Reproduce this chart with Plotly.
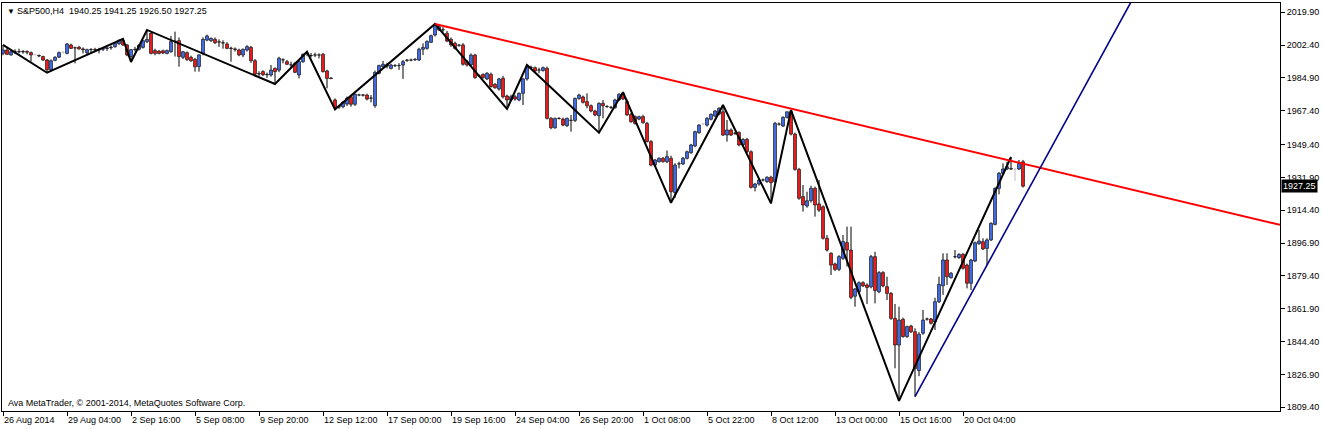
import plotly.graph_objects as go

# S&P500 H4 bars, 26 Aug 2014 .. 22 Oct 2014
bar_open = [
    1998.0, 1999.8, 1997.2, 1998.9, 1999.0, 1998.8, 1999.0, 1998.4, 1997.3, 1996.9,
    1996.3, 1994.5, 1989.3, 1994.3, 1996.0, 1998.6, 1998.0, 2002.5, 2000.9, 2001.3,
    2000.4, 1998.4, 2000.0, 2000.1, 1999.8, 2000.2, 2000.6, 2001.0, 2001.6, 2003.2,
    2004.8, 2002.5, 1996.3, 2000.0, 2000.2, 2001.2, 2004.3, 2008.7, 1999.5, 1999.2,
    1999.4, 1998.0, 1999.0, 2004.3, 2004.8, 1995.9, 1998.4, 1995.9, 1994.8, 1991.0,
    1998.0, 2005.1, 2004.8, 2005.5, 2004.2, 2003.7, 2003.0, 2000.8, 2000.4, 1999.8,
    1997.2, 1999.8, 2001.2, 1994.1, 1987.0, 1988.3, 1986.6, 1986.5, 1990.0, 1989.1,
    1994.5, 1993.6, 1991.8, 1992.7, 1986.5, 1993.6, 1998.0, 1996.9, 1997.2, 1997.1,
    1997.5, 1988.6, 1984.9, 1973.2, 1969.4, 1969.6, 1971.0, 1974.9, 1970.9, 1975.8,
    1975.9, 1975.8, 1974.1, 1970.2, 1987.4, 1991.0, 1992.0, 1990.0, 1991.4, 1991.5,
    1991.8, 1994.3, 1994.5, 1994.6, 1994.5, 2000.2, 2000.7, 2003.9, 2007.8, 2010.5,
    2010.6, 2008.7, 2005.5, 2003.4, 2002.3, 2002.5, 1993.6, 1991.8, 1997.1, 1986.0,
    1986.8, 1984.4, 1986.8, 1981.5, 1979.0, 1984.7, 1975.3, 1973.2, 1974.9, 1973.2,
    1976.7, 1984.4, 1990.5, 1990.4, 1989.1, 1988.9, 1990.0, 1963.4, 1958.4, 1963.4,
    1963.0, 1959.5, 1962.4, 1962.3, 1974.0, 1974.8, 1972.3, 1970.1, 1967.3, 1964.8,
    1971.4, 1969.6, 1969.3, 1969.1, 1973.2, 1976.5, 1972.3, 1965.5, 1964.3, 1963.0,
    1964.3, 1960.7, 1951.0, 1938.5, 1940.3, 1942.1, 1940.3, 1942.1, 1923.8, 1939.1,
    1939.1, 1942.1, 1945.1, 1948.7, 1955.8, 1960.4, 1959.8, 1962.9, 1964.6, 1965.7,
    1966.9, 1954.5, 1957.2, 1955.4, 1955.8, 1949.2, 1952.2, 1945.6, 1926.6, 1928.4,
    1930.5, 1929.7, 1932.0, 1929.7, 1960.4, 1959.3, 1963.9, 1966.9, 1955.0, 1936.2,
    1921.7, 1916.7, 1919.5, 1926.1, 1917.8, 1916.3, 1899.5, 1891.5, 1885.8, 1882.9,
    1888.8, 1897.2, 1893.2, 1868.6, 1871.0, 1875.8, 1874.6, 1873.6, 1889.7, 1871.0,
    1881.2, 1873.7, 1870.1, 1856.8, 1842.6, 1856.3, 1847.1, 1852.7, 1849.7, 1829.0,
    1848.9, 1856.4, 1856.5, 1855.0, 1865.7, 1874.2, 1887.9, 1878.5, 1889.6, 1889.2,
    1890.9, 1885.2, 1875.5, 1887.4, 1896.6, 1897.7, 1894.1, 1898.6, 1906.9, 1926.1,
    1934.1, 1936.4, 1936.6, 1936.4, 1936.4, 1940.25,
]
bar_high = [
    2002.5, 2000.8, 1999.5, 2000.2, 2000.5, 1999.8, 1999.6, 1999.0, 1997.8, 1997.4,
    1996.8, 1995.0, 1994.8, 1996.5, 1999.0, 1999.2, 2003.5, 2003.2, 2001.6, 2002.0,
    2001.2, 2000.5, 2000.8, 2001.0, 2001.0, 2001.0, 2001.5, 2002.2, 2004.0, 2005.5,
    2005.7, 2003.0, 2000.2, 2001.5, 2003.0, 2005.0, 2010.5, 2009.5, 2000.5, 1999.8,
    2000.0, 2000.0, 2007.3, 2009.6, 2006.5, 1999.3, 1999.0, 1996.8, 1995.6, 1997.5,
    2006.5, 2008.0, 2006.5, 2006.5, 2005.5, 2005.0, 2004.0, 2001.6, 2001.2, 2000.5,
    2000.6, 2002.4, 2002.0, 1995.0, 1988.5, 1989.0, 1987.8, 1991.8, 1990.5, 1996.2,
    1995.4, 1994.5, 1993.6, 1993.5, 1994.0, 1998.0, 1998.9, 1998.2, 1998.4, 1998.0,
    1998.3, 1989.3, 1985.3, 1974.0, 1970.5, 1972.5, 1975.0, 1976.0, 1976.6, 1976.5,
    1976.4, 1976.5, 1975.8, 1988.8, 1992.0, 1994.0, 1993.0, 1992.5, 1992.3, 1992.8,
    1994.5, 1995.0, 1995.2, 1995.4, 2001.0, 2003.4, 2005.0, 2008.0, 2013.7, 2013.0,
    2012.0, 2010.0, 2006.5, 2004.3, 2003.0, 2003.5, 1994.5, 1998.0, 1997.8, 1986.8,
    1987.3, 1988.0, 1987.8, 1982.2, 1985.0, 1986.0, 1976.0, 1976.0, 1975.8, 1977.2,
    1985.0, 1991.8, 1991.5, 1991.0, 1990.4, 1991.0, 1991.0, 1964.0, 1963.8, 1964.0,
    1963.8, 1963.8, 1965.2, 1974.5, 1976.5, 1975.5, 1976.7, 1970.8, 1968.0, 1971.9,
    1973.2, 1970.4, 1970.0, 1973.8, 1976.8, 1977.3, 1973.5, 1966.2, 1965.0, 1964.8,
    1965.3, 1961.5, 1951.8, 1941.8, 1942.6, 1942.8, 1946.2, 1943.5, 1939.5, 1940.3,
    1942.8, 1946.2, 1949.8, 1956.8, 1960.3, 1961.0, 1964.0, 1966.0, 1967.8, 1969.3,
    1970.5, 1962.5, 1958.0, 1956.2, 1956.5, 1952.8, 1953.0, 1946.3, 1929.0, 1931.0,
    1931.3, 1932.5, 1932.8, 1961.5, 1961.2, 1964.5, 1967.0, 1967.8, 1955.8, 1937.0,
    1927.9, 1924.3, 1927.5, 1927.0, 1930.5, 1917.0, 1901.2, 1892.0, 1886.5, 1890.5,
    1901.2, 1905.7, 1905.7, 1872.9, 1876.5, 1876.6, 1875.4, 1890.6, 1892.3, 1882.0,
    1882.0, 1879.0, 1870.8, 1864.5, 1863.0, 1857.2, 1853.0, 1853.4, 1851.5, 1849.5,
    1861.3, 1857.2, 1857.0, 1867.8, 1879.0, 1891.5, 1891.5, 1881.5, 1893.2, 1891.5,
    1891.6, 1886.0, 1888.5, 1897.7, 1903.9, 1899.5, 1899.5, 1908.0, 1926.6, 1934.8,
    1939.4, 1940.3, 1942.8, 1937.1, 1941.2, 1941.25,
]
bar_low = [
    1997.0, 1997.2, 1996.8, 1997.6, 1998.0, 1997.8, 1997.5, 1993.6, 1996.9, 1996.0,
    1994.0, 1987.7, 1988.5, 1993.8, 1995.5, 1997.8, 1997.5, 2000.3, 1992.7, 2000.0,
    1998.0, 1997.5, 1998.5, 1999.0, 1998.0, 1999.2, 1999.4, 2000.0, 2001.0, 2002.5,
    2002.0, 1996.5, 1993.4, 1999.0, 1999.5, 2000.6, 2003.5, 1997.5, 1997.0, 1997.5,
    1997.6, 1997.5, 1998.3, 1996.3, 1990.9, 1995.0, 1994.0, 1993.5, 1988.3, 1988.3,
    1997.0, 2004.5, 2004.2, 2003.0, 2001.5, 2000.5, 2000.2, 1993.6, 1999.0, 1996.5,
    1996.0, 1999.0, 1993.0, 1985.6, 1985.5, 1986.0, 1985.0, 1985.6, 1981.7, 1988.0,
    1992.7, 1991.8, 1990.0, 1987.5, 1984.7, 1993.0, 1996.5, 1995.8, 1996.0, 1995.3,
    1987.8, 1979.4, 1984.3, 1968.2, 1968.5, 1968.8, 1970.0, 1969.6, 1970.0, 1975.2,
    1975.0, 1973.0, 1971.9, 1969.0, 1986.8, 1990.5, 1990.0, 1989.5, 1990.8, 1989.2,
    1984.4, 1993.5, 1993.8, 1994.0, 1994.0, 1997.1, 2000.0, 2003.5, 2007.0, 2010.0,
    2009.5, 2004.0, 2001.5, 2000.0, 2001.5, 1991.5, 1991.0, 1991.0, 1984.5, 1985.5,
    1984.6, 1983.8, 1979.8, 1979.2, 1978.2, 1974.0, 1968.4, 1972.5, 1972.8, 1972.5,
    1970.5, 1983.5, 1989.5, 1988.0, 1987.4, 1988.3, 1962.8, 1957.6, 1957.8, 1962.8,
    1959.2, 1958.8, 1956.3, 1961.5, 1973.3, 1971.3, 1968.7, 1966.6, 1964.5, 1955.7,
    1963.4, 1969.0, 1968.4, 1968.5, 1972.6, 1973.2, 1964.8, 1961.0, 1960.0, 1962.4,
    1960.5, 1950.5, 1937.8, 1937.5, 1939.8, 1939.8, 1939.5, 1918.4, 1921.0, 1936.7,
    1938.5, 1941.5, 1944.5, 1948.0, 1955.2, 1959.8, 1959.0, 1962.3, 1964.0, 1965.0,
    1954.0, 1951.0, 1954.0, 1954.6, 1948.5, 1948.5, 1945.0, 1926.0, 1924.5, 1927.5,
    1929.8, 1929.0, 1918.1, 1928.8, 1959.5, 1958.8, 1963.3, 1954.3, 1935.5, 1920.0,
    1913.7, 1915.8, 1918.5, 1911.0, 1913.5, 1898.8, 1892.4, 1879.9, 1882.0, 1882.0,
    1888.0, 1884.4, 1867.0, 1863.0, 1870.0, 1873.5, 1864.5, 1872.8, 1864.8, 1870.2,
    1873.4, 1866.6, 1856.0, 1830.2, 1812.8, 1846.5, 1846.4, 1849.0, 1815.1, 1826.0,
    1848.0, 1855.6, 1853.5, 1850.6, 1865.0, 1869.3, 1874.6, 1878.0, 1888.8, 1888.5,
    1882.8, 1872.8, 1871.9, 1886.8, 1896.0, 1893.2, 1885.2, 1898.0, 1906.3, 1922.9,
    1933.5, 1935.8, 1935.8, 1930.0, 1935.8, 1926.50,
]
bar_close = [
    1999.8, 1997.5, 1998.9, 1999.0, 1998.8, 1999.0, 1998.6, 1997.2, 1997.3, 1996.6,
    1994.5, 1989.3, 1994.1, 1995.9, 1998.4, 1998.6, 2003.0, 2000.7, 2001.0, 2000.4,
    2000.0, 2000.0, 2000.1, 1999.8, 2000.2, 2000.6, 2001.0, 2001.3, 2003.4, 2004.8,
    2002.5, 1997.2, 2000.0, 2000.2, 2002.4, 2004.8, 2005.5, 1998.0, 1998.0, 1998.0,
    1998.2, 1999.5, 2004.3, 2004.6, 1996.3, 1998.9, 1994.8, 1994.1, 1990.9, 1997.2,
    2005.5, 2007.3, 2006.0, 2003.7, 2004.0, 2003.5, 2000.7, 2000.6, 2000.1, 1997.2,
    2000.2, 2001.6, 1994.1, 1987.0, 1987.3, 1986.6, 1986.8, 1989.1, 1988.3, 1995.4,
    1994.6, 1992.2, 1991.9, 1987.9, 1993.6, 1997.5, 1998.1, 1996.8, 1997.1, 1997.2,
    1988.3, 1984.7, 1984.6, 1969.0, 1969.6, 1971.9, 1974.1, 1970.9, 1976.2, 1975.9,
    1975.7, 1973.7, 1974.2, 1987.9, 1991.5, 1992.2, 1991.2, 1991.8, 1991.5, 1991.6,
    1993.6, 1994.5, 1994.4, 1994.9, 2000.2, 2001.2, 2004.3, 2007.4, 2013.1, 2012.2,
    2010.5, 2004.6, 2002.5, 2000.7, 2002.5, 1992.2, 1991.8, 1997.1, 1985.1, 1986.1,
    1985.1, 1987.4, 1980.3, 1979.7, 1984.4, 1974.9, 1973.2, 1974.9, 1973.7, 1976.7,
    1984.4, 1990.8, 1990.6, 1988.6, 1989.2, 1990.4, 1963.4, 1958.4, 1963.4, 1963.3,
    1959.8, 1963.4, 1962.3, 1974.0, 1975.8, 1971.9, 1970.1, 1967.3, 1965.2, 1971.4,
    1970.1, 1969.7, 1969.2, 1973.2, 1976.2, 1973.7, 1965.2, 1961.6, 1960.7, 1964.3,
    1961.1, 1951.0, 1938.5, 1941.2, 1942.1, 1940.3, 1943.0, 1924.3, 1938.5, 1939.2,
    1942.1, 1945.6, 1949.2, 1956.3, 1959.8, 1960.4, 1963.4, 1965.5, 1967.3, 1968.7,
    1954.5, 1957.2, 1954.5, 1955.5, 1949.2, 1952.2, 1945.6, 1926.6, 1928.4, 1930.5,
    1930.6, 1932.0, 1929.1, 1960.7, 1960.3, 1963.9, 1966.9, 1955.0, 1936.2, 1920.8,
    1917.2, 1919.5, 1926.1, 1917.2, 1914.5, 1899.5, 1893.2, 1885.2, 1882.9, 1889.7,
    1897.7, 1893.2, 1868.0, 1872.5, 1875.8, 1874.1, 1873.3, 1889.7, 1871.6, 1881.2,
    1874.1, 1870.1, 1856.8, 1842.6, 1855.9, 1847.1, 1852.4, 1849.7, 1830.0, 1848.3,
    1855.9, 1856.5, 1854.2, 1865.7, 1874.9, 1887.9, 1879.0, 1880.8, 1889.7, 1890.9,
    1883.5, 1875.5, 1887.9, 1897.1, 1898.0, 1893.8, 1898.6, 1907.4, 1926.1, 1934.1,
    1936.4, 1937.6, 1936.4, 1936.4, 1939.4, 1927.25,
]

tick_bars = [0, 16, 32, 48, 64, 80, 96, 112, 128, 144, 160, 176, 192, 208, 224, 240]
tick_labels = ['26 Aug 2014', '29 Aug 04:00', '2 Sep 16:00', '5 Sep 08:00', '9 Sep 20:00',
               '12 Sep 12:00', '17 Sep 00:00', '19 Sep 16:00', '24 Sep 04:00', '26 Sep 20:00',
               '1 Oct 08:00', '5 Oct 22:00', '8 Oct 12:00', '13 Oct 00:00', '15 Oct 16:00',
               '20 Oct 04:00']
price_ticks = [1809.40, 1826.90, 1844.40, 1861.90, 1879.40, 1896.90, 1914.40,
               1931.90, 1949.40, 1967.40, 1984.90, 2002.40, 2019.90]

# zigzag turning points (alternating high / low bars)
zigzag_bars = [0, 11, 30, 32, 36, 68, 76, 83, 108, 126, 131, 149, 155, 167, 180, 192, 197, 224, 252]
# trend lines: two anchor bars each, drawn as rays
resist_bars = [108, 197]
resist_prices = [2013.7, 1968.6]
support_bars = [228, 246]
support_prices = [1815.1, 1885.2]

symbol = 'S&P500,H4'
copyright_text = 'Ava MetaTrader, © 2001-2014, MetaQuotes Software Corp.'

BULL = '#4169e1'
BEAR = '#e81c1c'
FLAT = '#c0c0c0'
BODY_W = 0.75
X_RANGE = [-0.25, 319.25]
Y_RANGE = [1807.44, 2024.86]


def ray(bars, prices, x_end):
    slope = (prices[1] - prices[0]) / (bars[1] - bars[0])
    return [bars[0], x_end], [prices[0], prices[0] + slope * (x_end - bars[0])]


def wick_segments(bars):
    # upper and lower shadows only, so the lines never cross the body
    # (plotly draws scatter lines above bars)
    sx, sy = [], []
    for i in bars:
        top = max(bar_open[i], bar_close[i])
        bot = min(bar_open[i], bar_close[i])
        sx += [i, i, None, i, i, None]
        sy += [top, bar_high[i], None, bar_low[i], bot, None]
    return sx, sy


idx = list(range(len(bar_open)))
moving = [i for i in idx if bar_open[i] != bar_close[i]]
flat = [i for i in idx if bar_open[i] == bar_close[i]]

fig = go.Figure()

wx, wy = wick_segments(moving)
fig.add_trace(go.Scatter(x=wx, y=wy, mode='lines', line=dict(color='black', width=1), hoverinfo='skip'))
gx, gy = wick_segments(flat)
fig.add_trace(go.Scatter(x=gx, y=gy, mode='lines', line=dict(color=FLAT, width=1), hoverinfo='skip'))

# flat bars (open == close) are a grey dash
dx, dy = [], []
for i in flat:
    dx += [i - BODY_W / 2, i + BODY_W / 2, None]
    dy += [bar_open[i], bar_open[i], None]
fig.add_trace(go.Scatter(x=dx, y=dy, mode='lines', line=dict(color=FLAT, width=1), hoverinfo='skip'))

# bodies
fig.add_trace(go.Bar(
    x=moving,
    y=[abs(bar_close[i] - bar_open[i]) for i in moving],
    base=[min(bar_open[i], bar_close[i]) for i in moving],
    width=BODY_W,
    marker=dict(color=[BULL if bar_close[i] > bar_open[i] else BEAR for i in moving],
                line=dict(color='black', width=0.6)),
    hoverinfo='skip'))

zz_y = [bar_high[b] if k % 2 == 0 else bar_low[b] for k, b in enumerate(zigzag_bars)]
fig.add_trace(go.Scatter(x=zigzag_bars, y=zz_y, mode='lines',
                         line=dict(color='black', width=2), hoverinfo='skip'))

rx, ry = ray(resist_bars, resist_prices, X_RANGE[1])
fig.add_trace(go.Scatter(x=rx, y=ry, mode='lines', line=dict(color='#ff0000', width=2), hoverinfo='skip'))
sx, sy = ray(support_bars, support_prices, X_RANGE[1])
fig.add_trace(go.Scatter(x=sx, y=sy, mode='lines', line=dict(color='#00008b', width=1.6), hoverinfo='skip'))

header = '%s  %.2f %.2f %.2f %.2f' % (symbol, bar_open[-1], bar_high[-1], bar_low[-1], bar_close[-1])
fig.add_annotation(text='▼', xref='paper', yref='paper', x=0, y=1, xanchor='left', yanchor='top',
                   xshift=3, yshift=-2, showarrow=False, font=dict(size=8))
fig.add_annotation(text=header, xref='paper', yref='paper', x=0, y=1, xanchor='left', yanchor='top',
                   xshift=13, yshift=-1, showarrow=False)
fig.add_annotation(text=copyright_text, xref='paper', yref='paper', x=0, y=0, xanchor='left',
                   yanchor='bottom', xshift=4, yshift=1, showarrow=False)
fig.add_annotation(text='%.2f' % bar_close[-1], xref='paper', yref='y', x=1, y=bar_close[-1],
                   xanchor='left', xshift=1, showarrow=False, bgcolor='black', borderpad=1,
                   font=dict(color='white'))

fig.update_layout(
    width=1323, height=429,
    margin=dict(l=2, r=43, t=3, b=18),
    paper_bgcolor='white', plot_bgcolor='white',
    showlegend=False,
    font=dict(family='Liberation Sans', size=9, color='black'),
)
fig.update_xaxes(range=X_RANGE, showgrid=False, zeroline=False,
                 showline=True, linecolor='black', linewidth=1, mirror=True,
                 ticks='outside', ticklen=4, tickcolor='black',
                 tickvals=tick_bars, ticktext=tick_labels, ticklabelposition='outside right')
fig.update_yaxes(range=Y_RANGE, side='right', showgrid=False, zeroline=False,
                 showline=True, linecolor='black', linewidth=1, mirror=True,
                 ticks='outside', ticklen=4, tickcolor='black',
                 tickvals=price_ticks, ticktext=['%.2f' % p for p in price_ticks])

# the page body has a default 8px margin; drop it so the chart sits at the window edge
fig.write_html('out.html', config={'displayModeBar': False},
               post_script="document.body.style.margin='0';")
